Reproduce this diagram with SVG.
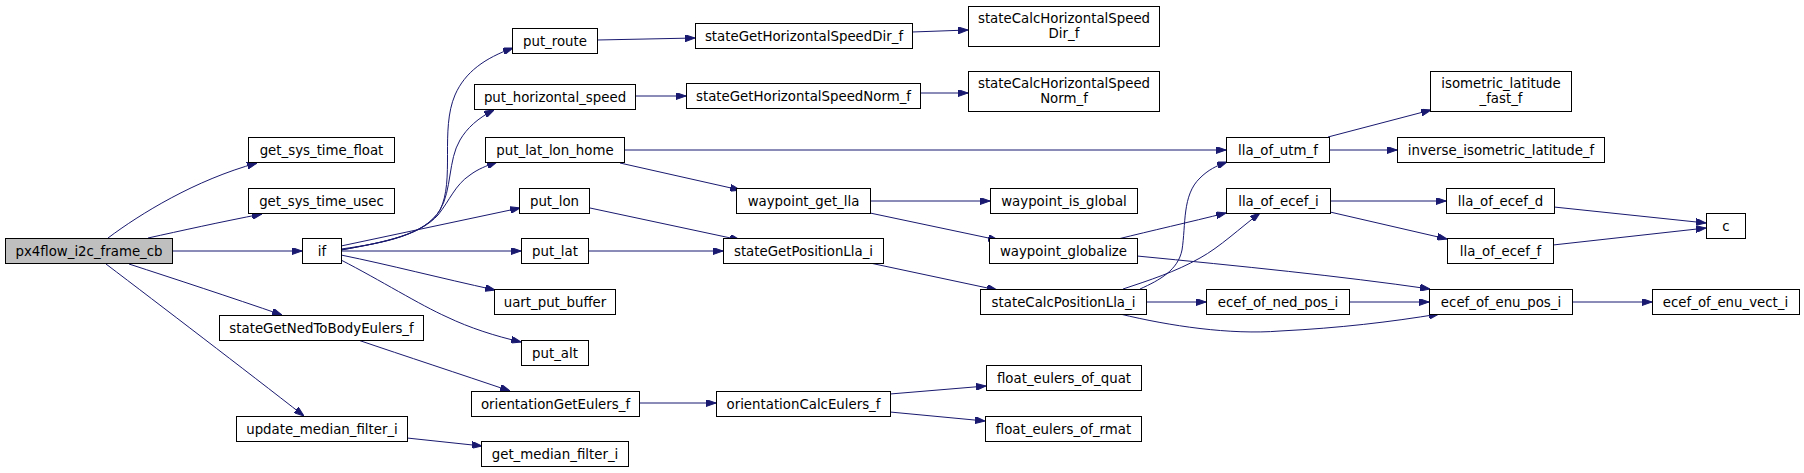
<svg xmlns="http://www.w3.org/2000/svg" width="1804" height="473" viewBox="0 0 1804 473">
<style>
.n rect{fill:#ffffff;stroke:#000000;stroke-width:1}
.n.root rect{fill:#bfbfbf}
.n text{font-family:"DejaVu Sans","Liberation Sans",sans-serif;font-size:13.33px;fill:#000000;text-anchor:middle}
#edges path{fill:none;stroke:#191970;stroke-width:1;marker-end:url(#ah)}
</style>
<defs>
<marker id="ah" viewBox="0 0 10 7" refX="10" refY="3.5" markerWidth="10" markerHeight="7" markerUnits="userSpaceOnUse" orient="auto">
<path d="M0,0 L10,3.5 L0,7 z" fill="#191970" stroke="#191970" stroke-width="1"/>
</marker>
</defs>
<rect width="1804" height="473" fill="#ffffff"/>
<g id="edges">
<path d="M108,238 C140,214 195,180 257,163"/>
<path d="M148,238 C180,231 220,222 262,214"/>
<path d="M172,251 L302,251"/>
<path d="M129,264 C175,279 230,297 282,315"/>
<path d="M106,264 C160,305 245,370 304,416"/>
<path d="M341,249 C385,243 425,235 440,210 C455,180 440,130 455,95 C465,72 485,58 513,48"/>
<path d="M341,250 C385,242 425,235 440,210 C452,190 448,160 460,140 C467,128 478,118 494,110"/>
<path d="M341,250 C385,242 420,235 438,215 C450,200 455,185 470,175 C478,169 486,166 497,162"/>
<path d="M341,246 L520,208"/>
<path d="M341,251 L521,251"/>
<path d="M341,255 C390,265 440,278 495,290"/>
<path d="M341,260 C380,280 420,305 447,317 C470,328 495,336 521,342"/>
<path d="M597,40 L695,38"/>
<path d="M635,96 L686,96"/>
<path d="M624,150 L1226,150"/>
<path d="M620,163 L740,190"/>
<path d="M590,208 L740,240"/>
<path d="M588,251 L723,251"/>
<path d="M912,32 L968,30"/>
<path d="M920,93 L968,93"/>
<path d="M870,201 L990,201"/>
<path d="M870,213 L998,240"/>
<path d="M870,263 L997,290"/>
<path d="M358,340 C405,356 460,374 510,391"/>
<path d="M639,403 L716,403"/>
<path d="M407,438 L482,446"/>
<path d="M890,394 L986,386"/>
<path d="M890,412 L985,421"/>
<path d="M1118,239 C1150,231 1190,222 1226,213"/>
<path d="M1137,256 C1240,266 1340,276 1430,289"/>
<path d="M1140,289 C1160,280 1178,270 1182,250 C1186,225 1182,195 1200,178 C1208,170 1216,166 1227,162"/>
<path d="M1123,289 C1150,280 1175,272 1200,258 C1220,247 1240,228 1260,213"/>
<path d="M1146,302 L1206,302"/>
<path d="M1120,314 C1170,326 1230,335 1280,331 C1340,328 1390,322 1439,314"/>
<path d="M1349,302 L1429,302"/>
<path d="M1328,137 L1431,110"/>
<path d="M1329,150 L1397,150"/>
<path d="M1330,201 L1446,201"/>
<path d="M1330,212 L1447,239"/>
<path d="M1554,207 L1706,223"/>
<path d="M1553,245 L1706,228"/>
<path d="M1572,302 L1652,302"/>
</g>
<g id="px4flow_i2c_frame_cb" class="n root"><rect x="5.5" y="238.5" width="167" height="25"/><text x="89" y="255.5">px4flow_i2c_frame_cb</text></g>
<g id="get_sys_time_float" class="n"><rect x="248.5" y="137.5" width="146" height="25"/><text x="321.5" y="154.5">get_sys_time_float</text></g>
<g id="get_sys_time_usec" class="n"><rect x="248.5" y="188.5" width="146" height="25"/><text x="321.5" y="205.5">get_sys_time_usec</text></g>
<g id="if" class="n"><rect x="302.5" y="238.5" width="39" height="25"/><text x="322" y="255.5">if</text></g>
<g id="stateGetNedToBodyEulers_f" class="n"><rect x="219.5" y="315.5" width="204" height="25"/><text x="321.5" y="332.5">stateGetNedToBodyEulers_f</text></g>
<g id="update_median_filter_i" class="n"><rect x="236.5" y="416.5" width="171" height="25"/><text x="322" y="433.5">update_median_filter_i</text></g>
<g id="put_route" class="n"><rect x="512.5" y="28.5" width="85" height="25"/><text x="555" y="45.5">put_route</text></g>
<g id="put_horizontal_speed" class="n"><rect x="474.5" y="84.5" width="161" height="25"/><text x="555" y="101.5">put_horizontal_speed</text></g>
<g id="put_lat_lon_home" class="n"><rect x="485.5" y="137.5" width="139" height="25"/><text x="555" y="154.5">put_lat_lon_home</text></g>
<g id="put_lon" class="n"><rect x="519.5" y="188.5" width="70" height="25"/><text x="554.5" y="205.5">put_lon</text></g>
<g id="put_lat" class="n"><rect x="521.5" y="238.5" width="67" height="25"/><text x="555" y="255.5">put_lat</text></g>
<g id="uart_put_buffer" class="n"><rect x="494.5" y="289.5" width="121" height="25"/><text x="555" y="306.5">uart_put_buffer</text></g>
<g id="put_alt" class="n"><rect x="521.5" y="340.5" width="67" height="25"/><text x="555" y="357.5">put_alt</text></g>
<g id="orientationGetEulers_f" class="n"><rect x="471.5" y="391.5" width="168" height="25"/><text x="555.5" y="408.5">orientationGetEulers_f</text></g>
<g id="get_median_filter_i" class="n"><rect x="481.5" y="441.5" width="147" height="25"/><text x="555" y="458.5">get_median_filter_i</text></g>
<g id="stateGetHorizontalSpeedDir_f" class="n"><rect x="695.5" y="23.5" width="217" height="25"/><text x="804" y="40.5">stateGetHorizontalSpeedDir_f</text></g>
<g id="stateGetHorizontalSpeedNorm_f" class="n"><rect x="686.5" y="83.5" width="234" height="25"/><text x="803.5" y="100.5">stateGetHorizontalSpeedNorm_f</text></g>
<g id="waypoint_get_lla" class="n"><rect x="736.5" y="188.5" width="134" height="25"/><text x="803.5" y="205.5">waypoint_get_lla</text></g>
<g id="stateGetPositionLla_i" class="n"><rect x="723.5" y="238.5" width="160" height="25"/><text x="803.5" y="255.5">stateGetPositionLla_i</text></g>
<g id="orientationCalcEulers_f" class="n"><rect x="716.5" y="391.5" width="174" height="25"/><text x="803.5" y="408.5">orientationCalcEulers_f</text></g>
<g id="stateCalcHorizontalSpeedDir_f" class="n"><rect x="968.5" y="6.5" width="191" height="40"/><text x="1064" y="22.5">stateCalcHorizontalSpeed</text><text x="1064" y="37.5">Dir_f</text></g>
<g id="stateCalcHorizontalSpeedNorm_f" class="n"><rect x="968.5" y="71.5" width="191" height="40"/><text x="1064" y="87.5">stateCalcHorizontalSpeed</text><text x="1064" y="102.5">Norm_f</text></g>
<g id="waypoint_is_global" class="n"><rect x="990.5" y="188.5" width="147" height="25"/><text x="1064" y="205.5">waypoint_is_global</text></g>
<g id="waypoint_globalize" class="n"><rect x="989.5" y="238.5" width="148" height="25"/><text x="1063.5" y="255.5">waypoint_globalize</text></g>
<g id="stateCalcPositionLla_i" class="n"><rect x="980.5" y="289.5" width="166" height="25"/><text x="1063.5" y="306.5">stateCalcPositionLla_i</text></g>
<g id="float_eulers_of_quat" class="n"><rect x="986.5" y="365.5" width="155" height="25"/><text x="1064" y="382.5">float_eulers_of_quat</text></g>
<g id="float_eulers_of_rmat" class="n"><rect x="985.5" y="416.5" width="156" height="25"/><text x="1063.5" y="433.5">float_eulers_of_rmat</text></g>
<g id="lla_of_utm_f" class="n"><rect x="1226.5" y="137.5" width="103" height="25"/><text x="1278" y="154.5">lla_of_utm_f</text></g>
<g id="lla_of_ecef_i" class="n"><rect x="1226.5" y="188.5" width="104" height="25"/><text x="1278.5" y="205.5">lla_of_ecef_i</text></g>
<g id="ecef_of_ned_pos_i" class="n"><rect x="1206.5" y="289.5" width="143" height="25"/><text x="1278" y="306.5">ecef_of_ned_pos_i</text></g>
<g id="isometric_latitude_fast_f" class="n"><rect x="1430.5" y="71.5" width="141" height="40"/><text x="1501" y="87.5">isometric_latitude</text><text x="1501" y="102.5">_fast_f</text></g>
<g id="inverse_isometric_latitude_f" class="n"><rect x="1397.5" y="137.5" width="207" height="25"/><text x="1501" y="154.5">inverse_isometric_latitude_f</text></g>
<g id="lla_of_ecef_d" class="n"><rect x="1446.5" y="188.5" width="108" height="25"/><text x="1500.5" y="205.5">lla_of_ecef_d</text></g>
<g id="lla_of_ecef_f" class="n"><rect x="1447.5" y="238.5" width="106" height="25"/><text x="1500.5" y="255.5">lla_of_ecef_f</text></g>
<g id="c" class="n"><rect x="1706.5" y="213.5" width="39" height="25"/><text x="1726" y="230.5">c</text></g>
<g id="ecef_of_enu_pos_i" class="n"><rect x="1429.5" y="289.5" width="143" height="25"/><text x="1501" y="306.5">ecef_of_enu_pos_i</text></g>
<g id="ecef_of_enu_vect_i" class="n"><rect x="1652.5" y="289.5" width="147" height="25"/><text x="1725.5" y="306.5">ecef_of_enu_vect_i</text></g>
</svg>
